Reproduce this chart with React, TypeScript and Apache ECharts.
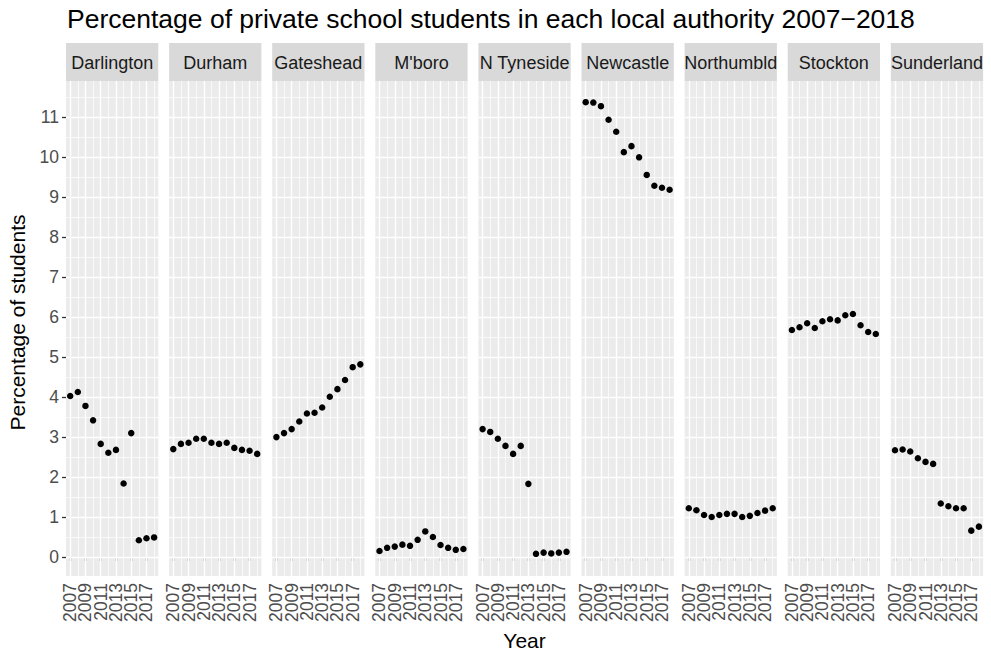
import React, { useEffect, useRef } from "react";
import * as echarts from "echarts";

const years = [2007, 2008, 2009, 2010, 2011, 2012, 2013, 2014, 2015, 2016, 2017, 2018];
const authorities = ["Darlington", "Durham", "Gateshead", "M'boro", "N Tyneside", "Newcastle", "Northumbld", "Stockton", "Sunderland"];

const darlington = [4.03, 4.13, 3.78, 3.42, 2.83, 2.61, 2.68, 1.84, 3.1, 0.42, 0.47, 0.49];
const durham = [2.7, 2.83, 2.86, 2.96, 2.96, 2.86, 2.83, 2.86, 2.73, 2.68, 2.66, 2.58];
const gateshead = [3.0, 3.1, 3.2, 3.39, 3.59, 3.61, 3.74, 4.01, 4.2, 4.43, 4.75, 4.82];
const mboro = [0.15, 0.23, 0.26, 0.31, 0.28, 0.43, 0.64, 0.5, 0.3, 0.23, 0.18, 0.2];
const nTyneside = [3.2, 3.13, 2.96, 2.78, 2.58, 2.78, 1.83, 0.08, 0.11, 0.09, 0.11, 0.13];
const newcastle = [11.38, 11.37, 11.28, 10.94, 10.64, 10.13, 10.28, 10.0, 9.56, 9.29, 9.24, 9.19];
const northumbld = [1.22, 1.17, 1.05, 1.0, 1.05, 1.08, 1.08, 1.0, 1.03, 1.1, 1.16, 1.22];
const stockton = [5.68, 5.75, 5.85, 5.73, 5.9, 5.95, 5.92, 6.05, 6.08, 5.8, 5.63, 5.58];
const sunderland = [2.67, 2.69, 2.64, 2.47, 2.38, 2.33, 1.34, 1.27, 1.22, 1.22, 0.66, 0.76];

const seriesValues = [darlington, durham, gateshead, mboro, nTyneside, newcastle, northumbld, stockton, sunderland];

const xTickYears = [2007, 2009, 2011, 2013, 2015, 2017];
const xLabelsA = [2007, 2011, 2015];
const xLabelsB = [2009, 2013, 2017];
const xMinorYears = [2008, 2010, 2012, 2014, 2016, 2018];
const yTicks = [0, 1, 2, 3, 4, 5, 6, 7, 8, 9, 10, 11];
const yMinor = [0.5, 1.5, 2.5, 3.5, 4.5, 5.5, 6.5, 7.5, 8.5, 9.5, 10.5, 11.5];

const titleText = "Percentage of private school students in each local authority 2007\u22122018";
const xTitle = "Year";
const yTitle = "Percentage of students";

const FONT = "'Liberation Sans', Arial, Helvetica, sans-serif";

export default function App() {
  const ref = useRef<HTMLDivElement>(null);
  useEffect(() => {
    if (!ref.current) return;
    const chart = echarts.init(ref.current, null, { renderer: "svg" });
    const panelLeft0 = 66;
    const pitch = 103.1;
    const panelW = 92.3;
    const panelTop = 81;
    const panelH = 495;
    const stripTop = 43;
    const stripH = 38;

    const grids: any[] = [];
    const xAxes: any[] = [];
    const yAxes: any[] = [];
    const series: any[] = [];
    const graphics: any[] = [];

    const xLabelStyle = {
      show: true,
      rotate: 90,
      margin: 7,
      fontSize: 17.5,
      color: "#4d4d4d",
      fontFamily: FONT,
      showMinLabel: true,
      showMaxLabel: true,
      hideOverlap: false,
      formatter: (v: number) => String(v),
    };

    authorities.forEach((name, i) => {
      const left = panelLeft0 + i * pitch;
      grids.push({
        left,
        top: panelTop,
        width: panelW,
        height: panelH,
        show: true,
        backgroundColor: "#ebebeb",
        borderWidth: 0,
        containLabel: false,
      });
      xAxes.push({
        type: "value",
        gridIndex: i,
        position: "bottom",
        offset: 0,
        min: 2006.45,
        max: 2018.55,
        splitLine: { show: false },
        axisLine: { show: false },
        axisTick: {
          show: true,
          customValues: xTickYears,
          length: 4,
          lineStyle: { color: "#333333", width: 1.3 },
        },
        axisLabel: { ...xLabelStyle, customValues: xLabelsA },
      });
      xAxes.push({
        type: "value",
        gridIndex: i,
        position: "bottom",
        offset: 0,
        min: 2006.45,
        max: 2018.55,
        splitLine: { show: false },
        axisLine: { show: false },
        axisTick: { show: false },
        axisLabel: { ...xLabelStyle, customValues: xLabelsB },
      });
      yAxes.push({
        type: "value",
        gridIndex: i,
        min: -0.475,
        max: 11.91,
        splitLine: { show: false },
        axisLine: { show: false },
        axisTick: {
          show: i === 0,
          customValues: yTicks,
          length: 4,
          lineStyle: { color: "#333333", width: 1.3 },
        },
        axisLabel: {
          show: i === 0,
          customValues: yTicks,
          margin: 7,
          fontSize: 17.5,
          color: "#4d4d4d",
          fontFamily: FONT,
          showMinLabel: true,
          showMaxLabel: true,
          formatter: (v: number) => String(v),
        },
      });
      const lines: any[] = [];
      xTickYears.forEach((v) => lines.push({ xAxis: v, lineStyle: { width: 1.4 } }));
      xMinorYears.forEach((v) => lines.push({ xAxis: v, lineStyle: { width: 0.7 } }));
      yTicks.forEach((v) => lines.push({ yAxis: v, lineStyle: { width: 1.4 } }));
      yMinor.forEach((v) => lines.push({ yAxis: v, lineStyle: { width: 0.7 } }));
      series.push({
        type: "line",
        xAxisIndex: 2 * i,
        yAxisIndex: i,
        data: [],
        z: 1,
        silent: true,
        markLine: {
          silent: true,
          symbol: "none",
          label: { show: false },
          lineStyle: { color: "#ffffff", type: "solid" },
          emphasis: { disabled: true },
          data: lines,
        },
      });
      series.push({
        type: "scatter",
        name,
        xAxisIndex: 2 * i,
        yAxisIndex: i,
        z: 5,
        symbol: "circle",
        symbolSize: 6.5,
        itemStyle: { color: "#000000", opacity: 1 },
        data: years.map((y, k) => [y, seriesValues[i][k]]),
      });
      graphics.push({
        type: "rect",
        shape: { x: left, y: stripTop, width: panelW, height: stripH },
        style: { fill: "#d9d9d9" },
        silent: true,
      });
      graphics.push({
        type: "text",
        x: left + panelW / 2,
        y: stripTop + stripH / 2 + 0.5,
        style: {
          text: name,
          fill: "#1a1a1a",
          fontSize: 18,
          fontFamily: FONT,
          align: "center",
          verticalAlign: "middle",
        },
        silent: true,
      });
    });

    graphics.push({
      type: "text",
      x: 67,
      y: 19,
      style: {
        text: titleText,
        fill: "#000000",
        fontSize: 26.5,
        fontFamily: FONT,
        align: "left",
        verticalAlign: "middle",
      },
    });
    graphics.push({
      type: "text",
      x: panelLeft0 + (8 * pitch + panelW) / 2,
      y: 640,
      style: {
        text: xTitle,
        fill: "#000000",
        fontSize: 21,
        fontFamily: FONT,
        align: "center",
        verticalAlign: "middle",
      },
    });
    graphics.push({
      type: "text",
      x: 17,
      y: panelTop + panelH / 2 - 6,
      rotation: Math.PI / 2,
      style: {
        text: yTitle,
        fill: "#000000",
        fontSize: 21,
        fontFamily: FONT,
        align: "center",
        verticalAlign: "middle",
      },
    });

    chart.setOption({
      animation: false,
      backgroundColor: "#ffffff",
      textStyle: { fontFamily: FONT },
      grid: grids,
      xAxis: xAxes,
      yAxis: yAxes,
      series,
      graphic: graphics,
    });
    return () => chart.dispose();
  }, []);
  return (
    <div
      ref={ref}
      style={{ position: "fixed", left: 0, top: 0, width: 991, height: 654, background: "#ffffff" }}
    />
  );
}
